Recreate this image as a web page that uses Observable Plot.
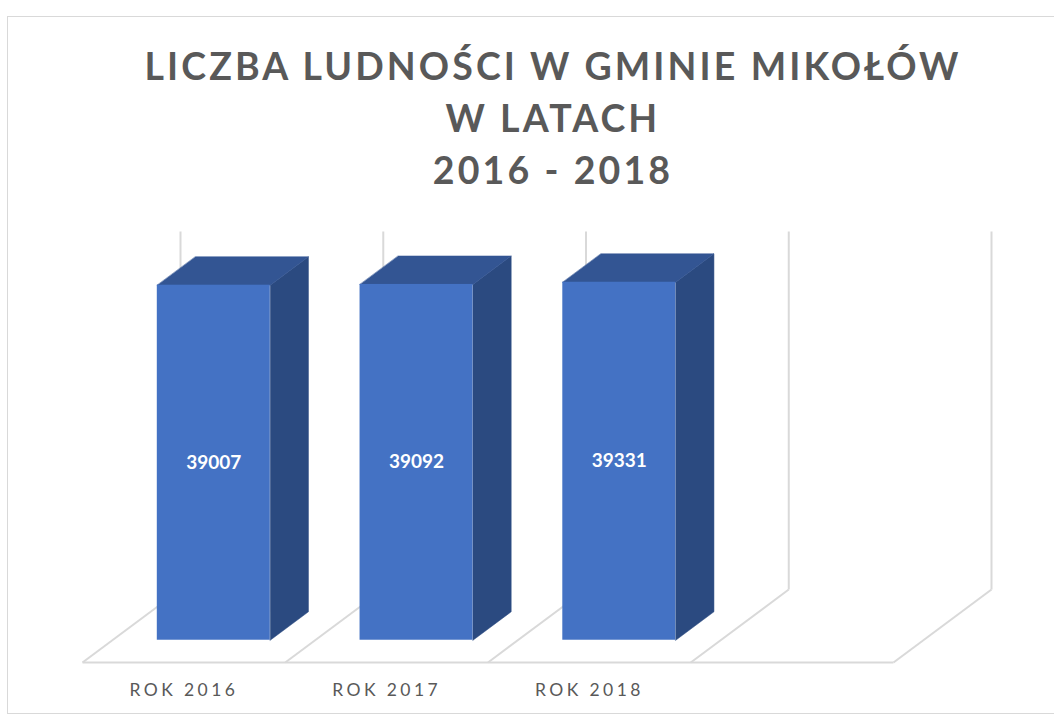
<!DOCTYPE html>
<html>
<head>
<meta charset="utf-8">
<script src="https://cdn.jsdelivr.net/npm/d3@7"></script>
<script src="https://cdn.jsdelivr.net/npm/@observablehq/plot@0.6"></script>
<style>
  html, body { margin: 0; padding: 0; background: #fff; }
  body { width: 1054px; height: 715px; position: relative; overflow: hidden; }
  #frame { position: absolute; left: 7px; top: 16px; width: 1100px; height: 698px;
           border-left: 1.5px solid #d9d9d9; border-top: 1.5px solid #d9d9d9; border-bottom: 1.5px solid #d9d9d9; box-sizing: border-box; }
  #title { position: absolute; left: 0; top: 40px; width: 1106px; text-align: center;
           font-family: Lato, "Open Sans", sans-serif; font-weight: 700; color: #595959;
           font-size: 37.5px; letter-spacing: 3.1px; line-height: 52px; }
  #chart { position: absolute; left: 0; top: 0; }
</style>
</head>
<body>
<div id="frame"></div>
<div id="title">LICZBA LUDNOŚCI W GMINIE MIKOŁÓW<br>W LATACH<br>2016 - 2018</div>
<div id="chart"></div>
<script>
// ---- data ----
const categories = ["ROK 2016", "ROK 2017", "ROK 2018"];
const values = [39007, 39092, 39331];
const slotCount = 4; // the 3-D floor has four category slots (last one empty)

// ---- oblique 3-D projection parameters (style) ----
const yMax = d3.max(values);
const depthX = 0.4834;          // full depth shift, in category units
const depthY = 0.2039 * yMax;   // full depth shift, in value units
const barWidth = 0.557;         // bar width, in category units
const t0 = 0.305, t1 = 0.695;   // bar front / back depth fractions

const rows = categories.map((c, i) => ({cat: c, i, v: values[i]}));

// front faces
const front = rows.map(d => ({
  ...d,
  x1: d.i + 0.5 - barWidth / 2 + t0 * depthX,
  x2: d.i + 0.5 + barWidth / 2 + t0 * depthX,
  y1: t0 * depthY,
  y2: d.v + t0 * depthY
}));
const dd = t1 - t0;
// top & side faces as polygons
const topFaces = front.flatMap(d => [
  {id: d.cat, x: d.x1, y: d.y2},
  {id: d.cat, x: d.x2, y: d.y2},
  {id: d.cat, x: d.x2 + dd * depthX, y: d.y2 + dd * depthY},
  {id: d.cat, x: d.x1 + dd * depthX, y: d.y2 + dd * depthY}
]);
const sideFaces = front.flatMap(d => [
  {id: d.cat, x: d.x2, y: d.y1},
  {id: d.cat, x: d.x2 + dd * depthX, y: d.y1 + dd * depthY},
  {id: d.cat, x: d.x2 + dd * depthX, y: d.y2 + dd * depthY},
  {id: d.cat, x: d.x2, y: d.y2}
]);

const slots = d3.range(slotCount + 1);
const wallLines = slots.map(i => ({x1: i + depthX, y1: depthY, x2: i + depthX, y2: yMax + depthY}));
const floorDiagonals = slots.map(i => ({x1: i, y1: 0, x2: i + depthX, y2: depthY}));
const floorFront = [{x1: 0, y1: 0, x2: slotCount, y2: 0}];

const grid = "#d9d9d9";

const plot = Plot.plot({
  width: 1054,
  height: 715,
  marginLeft: 82,
  marginRight: 161,
  marginTop: 304,
  marginBottom: 53,
  x: {type: "linear", domain: [0, slotCount], axis: null},
  y: {type: "linear", domain: [0, yMax], axis: null},
  style: {background: "transparent", overflow: "visible"},
  marks: [
    Plot.link(wallLines, {x1: "x1", y1: "y1", x2: "x2", y2: "y2", stroke: grid, strokeWidth: 2}),
    Plot.link(floorDiagonals, {x1: "x1", y1: "y1", x2: "x2", y2: "y2", stroke: grid, strokeWidth: 2}),
    Plot.link(floorFront, {x1: "x1", y1: "y1", x2: "x2", y2: "y2", stroke: grid, strokeWidth: 2}),
    Plot.line(sideFaces, {x: "x", y: "y", z: "id", fill: "#2B4A80", stroke: "#2B4A80", strokeWidth: 0.5, curve: "linear-closed"}),
    Plot.line(topFaces, {x: "x", y: "y", z: "id", fill: "#335593", stroke: "#335593", strokeWidth: 0.5, curve: "linear-closed"}),
    Plot.rect(front, {x1: "x1", x2: "x2", y1: "y1", y2: "y2", fill: "#4472C4"}),
    Plot.text(front, {
      x: d => (d.x1 + d.x2) / 2, y: d => (d.y1 + d.y2) / 2, text: d => String(d.v),
      fill: "white", fontSize: 19, fontWeight: 700, fontFamily: "Lato, 'Open Sans', sans-serif"
    }),
    Plot.text(rows, {
      x: d => d.i + 0.5, y: 0, text: "cat", dy: 28,
      fill: "#595959", fontSize: 17.5, fontFamily: "Lato, 'Open Sans', sans-serif"
    })
  ]
});
document.getElementById("chart").appendChild(plot);
// letter spacing for category labels
d3.select(plot).selectAll("g[aria-label='text']").filter((d, i) => i === 1).attr("letter-spacing", "3.4px");
</script>
</body>
</html>
